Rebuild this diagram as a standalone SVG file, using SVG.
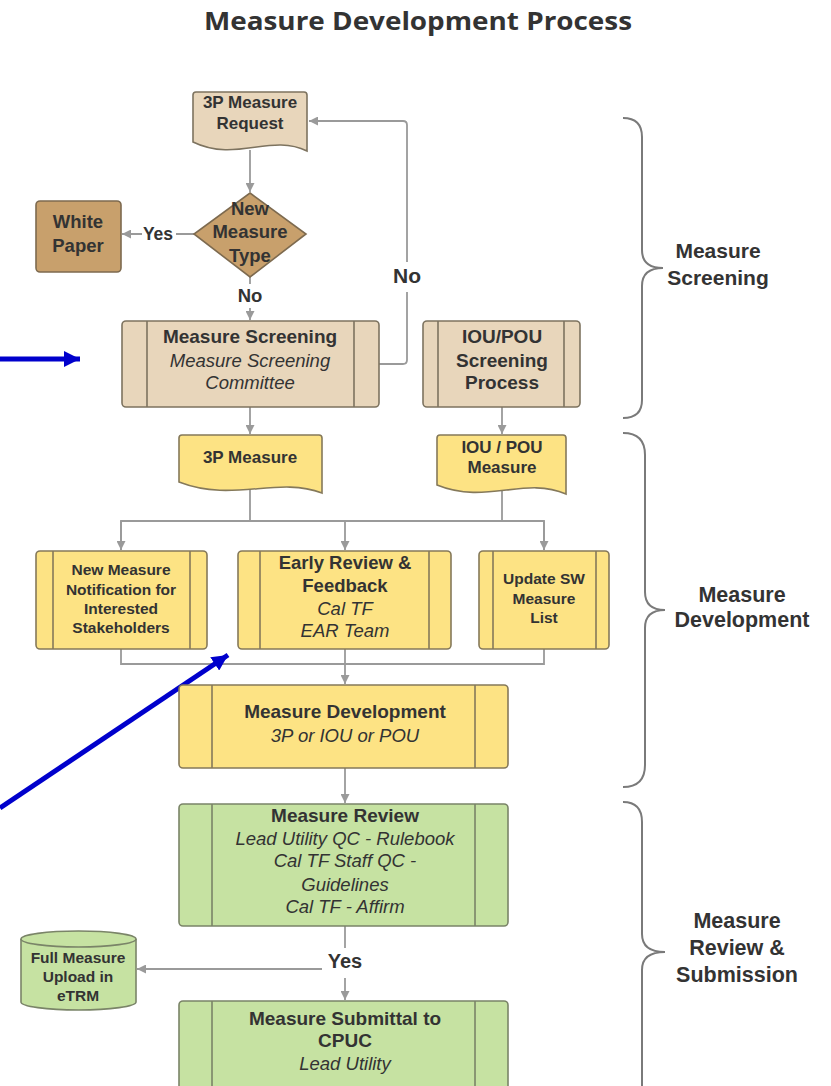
<svg xmlns="http://www.w3.org/2000/svg" width="831" height="1086" viewBox="0 0 831 1086">
<style>
.t{font-family:"Liberation Sans",Arial,sans-serif;fill:#333;text-anchor:middle}
.b{font-weight:bold}
.i{font-style:italic}
.tan{fill:#e8d6bb;stroke:#7d735f;stroke-width:1.6}
.brown{fill:#c8a06c;stroke:#7d6a4f;stroke-width:1.6}
.yel{fill:#fde384;stroke:#85795a;stroke-width:1.6}
.grn{fill:#c6e2a2;stroke:#7a8468;stroke-width:1.6}
.in{fill:none;stroke-width:1.6}
.c{fill:none;stroke:#9a9a9a;stroke-width:1.8}
.br{fill:none;stroke:#7a7a7a;stroke-width:2}
.blue{stroke:#0000cc;stroke-width:5;fill:none}
.lbl{fill:#fff}
</style>
<defs>
<marker id="ah" viewBox="0 0 10 10" refX="10" refY="5" markerWidth="9" markerHeight="9" markerUnits="userSpaceOnUse" orient="auto"><path d="M0,0 L10,5 L0,10 z" fill="#9a9a9a"/></marker>
<marker id="bh" viewBox="0 0 10 10" refX="10" refY="5" markerWidth="16" markerHeight="16" markerUnits="userSpaceOnUse" orient="auto"><path d="M0,0 L10,5 L0,10 z" fill="#0000cc"/></marker>
</defs>
<rect width="831" height="1086" fill="#fff"/>
<text class="b" x="418" y="30" style="font-family:'Open Sans','Liberation Sans',sans-serif;font-size:25px;fill:#333;text-anchor:middle" textLength="428" lengthAdjust="spacingAndGlyphs">Measure Development Process</text>

<g id="connectors">
<path class="c" d="M250,150 V192" marker-end="url(#ah)"/>
<path class="c" d="M194,234 H122" marker-end="url(#ah)"/>
<path class="c" d="M250,277 V320" marker-end="url(#ah)"/>
<path class="c" d="M379,364 H403 Q407,364 407,360 V125 Q407,121 403,121 H309" marker-end="url(#ah)"/>
<path class="c" d="M250,407 V434" marker-end="url(#ah)"/>
<path class="c" d="M502,407 V434" marker-end="url(#ah)"/>
<path class="c" d="M250,489 V521 M502,491 V521 M121,550 V521 H544 V550"/>
<path class="c" d="M121,521 V550" marker-end="url(#ah)"/>
<path class="c" d="M345,521 V550" marker-end="url(#ah)"/>
<path class="c" d="M544,521 V550" marker-end="url(#ah)"/>
<path class="c" d="M121,649 V664 H544 V649"/>
<path class="c" d="M345,649 V684" marker-end="url(#ah)"/>
<path class="c" d="M345,768 V803" marker-end="url(#ah)"/>
<path class="c" d="M345,926 V1000" marker-end="url(#ah)"/>
<path class="c" d="M345,969 H137" marker-end="url(#ah)"/>
<rect class="lbl" x="142" y="222" width="34" height="22"/>
<text class="t b" x="158" y="240" style="font-size:17.5px">Yes</text>
<rect class="lbl" x="235" y="284" width="30" height="24"/>
<text class="t b" x="250" y="302" style="font-size:18.5px">No</text>
<rect class="lbl" x="392" y="262" width="30" height="30"/>
<text class="t b" x="407" y="283" style="font-size:21px">No</text>
<rect class="lbl" x="322" y="948" width="46" height="30"/>
<text class="t b" x="345" y="968" style="font-size:20px">Yes</text>
<line class="blue" x1="0" y1="359" x2="80" y2="359" marker-end="url(#bh)"/>
<line class="blue" x1="0" y1="808" x2="228" y2="655" marker-end="url(#bh)"/>
</g>

<g id="braces">
<path class="br" d="M623,118 Q642,118 642,137 V250 Q642,268 663,268 Q642,268 642,286 V400 Q642,418 623,418"/>
<text class="t b" x="718" y="258" style="font-size:21px">Measure</text>
<text class="t b" x="718" y="285" style="font-size:21px">Screening</text>
<path class="br" d="M623,433 Q645,433 645,455 V592 Q645,610 665,610 Q645,610 645,628 V765 Q645,787 623,787"/>
<text class="t b" x="742" y="602" style="font-size:21.5px">Measure</text>
<text class="t b" x="742" y="627" style="font-size:21.5px">Development</text>
<path class="br" d="M623,802 Q642,802 642,822 V934 Q642,952 665,952 Q642,952 642,970 V1090"/>
<text class="t b" x="737" y="928" style="font-size:21.5px">Measure</text>
<text class="t b" x="737" y="955" style="font-size:21.5px">Review &amp;</text>
<text class="t b" x="737" y="982" style="font-size:21.5px">Submission</text>
</g>

<g id="request">
<path class="tan" d="M196,92 H304 Q307,92 307,95 V151 C270.5,133 236.3,163 193,142 V95 Q193,92 196,92 Z"/>
<text class="t b" x="250" y="108" style="font-size:17px">3P Measure</text>
<text class="t b" x="250" y="129" style="font-size:17px">Request</text>
</g>

<g id="decision">
<path class="brown" d="M250,193 L306,234 L250,277 L194,234 Z"/>
<text class="t b" x="250" y="215" style="font-size:18.5px">New</text>
<text class="t b" x="250" y="238" style="font-size:18.5px">Measure</text>
<text class="t b" x="250" y="262" style="font-size:18.5px">Type</text>
</g>

<g id="whitepaper">
<rect class="brown" x="36" y="201" width="85" height="71" rx="4"/>
<text class="t b" x="78" y="228" style="font-size:18.5px">White</text>
<text class="t b" x="78" y="252" style="font-size:18.5px">Paper</text>
</g>

<g id="screening">
<rect class="tan" x="122" y="321" width="257" height="86" rx="4"/>
<path class="in" stroke="#7d735f" d="M147,321 V407 M354,321 V407"/>
<text class="t b" x="250" y="343" style="font-size:19px">Measure Screening</text>
<text class="t i" x="250" y="367" style="font-size:18.5px">Measure Screening</text>
<text class="t i" x="250" y="389" style="font-size:18.5px">Committee</text>
</g>

<g id="iouscreening">
<rect class="tan" x="423" y="321" width="157" height="86" rx="4"/>
<path class="in" stroke="#7d735f" d="M438,321 V407 M564,321 V407"/>
<text class="t b" x="502" y="343" style="font-size:19px">IOU/POU</text>
<text class="t b" x="502" y="367" style="font-size:19px">Screening</text>
<text class="t b" x="502" y="389" style="font-size:19px">Process</text>
</g>

<g id="measure3p">
<path class="yel" d="M182,435 H319 Q322,435 322,438 V493 C276.8,476 233.3,503 179,482 V438 Q179,435 182,435 Z"/>
<text class="t b" x="250" y="463" style="font-size:17px">3P Measure</text>
</g>

<g id="ioumeasure">
<path class="yel" d="M440,435 H563 Q566,435 566,438 V494 C524.7,476 486,505 437,485 V438 Q437,435 440,435 Z"/>
<text class="t b" x="502" y="453" style="font-size:17px">IOU / POU</text>
<text class="t b" x="502" y="473" style="font-size:17px">Measure</text>
</g>

<g id="notification">
<rect class="yel" x="36" y="551" width="171" height="98" rx="4"/>
<path class="in" stroke="#85795a" d="M53,551 V649 M190,551 V649"/>
<text class="t b" x="121" y="575" style="font-size:15.5px">New Measure</text>
<text class="t b" x="121" y="595" style="font-size:15.5px">Notification for</text>
<text class="t b" x="121" y="614" style="font-size:15.5px">Interested</text>
<text class="t b" x="121" y="633" style="font-size:15.5px">Stakeholders</text>
</g>

<g id="earlyreview">
<rect class="yel" x="238" y="551" width="213" height="98" rx="4"/>
<path class="in" stroke="#85795a" d="M260,551 V649 M429,551 V649"/>
<text class="t b" x="345" y="569" style="font-size:18.5px">Early Review &amp;</text>
<text class="t b" x="345" y="592" style="font-size:18.5px">Feedback</text>
<text class="t i" x="345" y="615" style="font-size:18.5px">Cal TF</text>
<text class="t i" x="345" y="637" style="font-size:18.5px">EAR Team</text>
</g>

<g id="updatesw">
<rect class="yel" x="479" y="551" width="130" height="98" rx="4"/>
<path class="in" stroke="#85795a" d="M493,551 V649 M596,551 V649"/>
<text class="t b" x="544" y="584" style="font-size:15.5px">Update SW</text>
<text class="t b" x="544" y="604" style="font-size:15.5px">Measure</text>
<text class="t b" x="544" y="623" style="font-size:15.5px">List</text>
</g>

<g id="development">
<rect class="yel" x="179" y="685" width="329" height="83" rx="4"/>
<path class="in" stroke="#85795a" d="M212,685 V768 M475,685 V768"/>
<text class="t b" x="345" y="718" style="font-size:19px">Measure Development</text>
<text class="t i" x="345" y="742" style="font-size:18.5px">3P or IOU or POU</text>
</g>

<g id="review">
<rect class="grn" x="179" y="804" width="329" height="122" rx="4"/>
<path class="in" stroke="#7a8468" d="M212,804 V926 M475,804 V926"/>
<text class="t b" x="345" y="822" style="font-size:19px">Measure Review</text>
<text class="t i" x="345" y="845" style="font-size:18.5px">Lead Utility QC - Rulebook</text>
<text class="t i" x="345" y="867" style="font-size:18.5px">Cal TF Staff QC -</text>
<text class="t i" x="345" y="891" style="font-size:18.5px">Guidelines</text>
<text class="t i" x="345" y="913" style="font-size:18.5px">Cal TF - Affirm</text>
</g>

<g id="etrm">
<path class="grn" d="M21,939 A57.5,8 0 0 1 136,939 V1002 A57.5,8 0 0 1 21,1002 Z"/>
<path class="in" stroke="#7a8468" d="M21,939 A57.5,8 0 0 0 136,939"/>
<text class="t b" x="78" y="963" style="font-size:15.5px">Full Measure</text>
<text class="t b" x="78" y="982" style="font-size:15.5px">Upload in</text>
<text class="t b" x="78" y="1001" style="font-size:15.5px">eTRM</text>
</g>

<g id="submittal">
<rect class="grn" x="179" y="1001" width="329" height="100" rx="4"/>
<path class="in" stroke="#7a8468" d="M212,1001 V1101 M475,1001 V1101"/>
<text class="t b" x="345" y="1025" style="font-size:19px">Measure Submittal to</text>
<text class="t b" x="345" y="1047" style="font-size:19px">CPUC</text>
<text class="t i" x="345" y="1070" style="font-size:18.5px">Lead Utility</text>
</g>
</svg>
